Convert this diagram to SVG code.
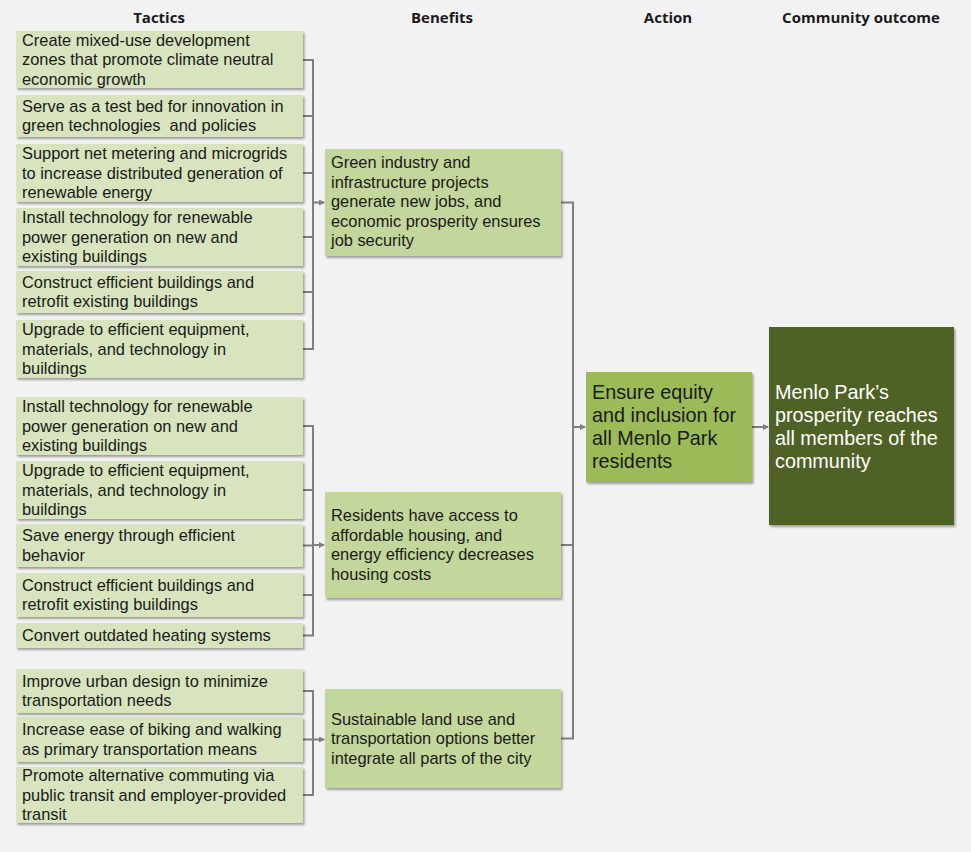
<svg xmlns="http://www.w3.org/2000/svg" width="971" height="852" viewBox="0 0 971 852">
<style>
text{font-family:"Liberation Sans",Arial,sans-serif;fill:#1a1a1a}
.h{font-family:"Open Sans","Liberation Sans",sans-serif;font-size:15px;font-weight:bold;text-anchor:middle}
.t{font-size:16.4px}
.a{font-size:19.8px}
.w{fill:#ffffff}
.tac{fill:#d7e4bd;filter:url(#sh)}
.ben{fill:#c3d69b;filter:url(#sh)}
.act{fill:#9bbb59;filter:url(#sh)}
.out{fill:#4f6228;filter:url(#sh)}
.c{fill:none;stroke:#7f7f7f;stroke-width:2}
.ar{marker-end:url(#arr)}
</style>
<defs>
<filter id="sh" x="-5%" y="-5%" width="115%" height="120%">
<feDropShadow dx="1.5" dy="2" stdDeviation="1" flood-color="#000" flood-opacity="0.35"/>
</filter>
<marker id="arr" markerWidth="6" markerHeight="6" refX="5" refY="3" orient="auto" markerUnits="userSpaceOnUse">
<path d="M0,0 L6,3 L0,6 Z" fill="#7f7f7f"/>
</marker>
</defs>
<rect width="971" height="852" fill="#f2f2f2"/>
<g id="headers">
<text class="h" x="159" y="23">Tactics</text>
<text class="h" x="442" y="23">Benefits</text>
<text class="h" x="668" y="23">Action</text>
<text class="h" x="861" y="23">Community outcome</text>
</g>
<g id="connectors">
<path class="c" d="M303,60H313M303,116H313M303,173H313M303,237H313M303,292H313M303,349H313M313,59V350"/>
<path class="c ar" d="M313,202.5H324"/>
<path class="c" d="M303,426H313M303,490H313M303,545.5H313M303,595H313M303,635.5H313M313,425V636.5"/>
<path class="c ar" d="M313,545H324"/>
<path class="c" d="M303,691H313M303,795H313M313,690V796"/>
<path class="c ar" d="M303,739.5H324"/>
<path class="c" d="M561,202.5H573M561,545H573M561,738.5H573M573,201.5V739.5"/>
<path class="c ar" d="M573,427H585"/>
<path class="c ar" d="M752,427H768"/>
</g>
<g id="t1"><rect class="tac" x="16" y="31" width="287" height="57"/>
<text class="t" x="22"><tspan x="22" y="45.5">Create mixed-use development</tspan><tspan x="22" y="65">zones that promote climate neutral</tspan><tspan x="22" y="84.5">economic growth</tspan></text></g>
<g id="t2"><rect class="tac" x="16" y="95" width="287" height="42"/>
<text class="t" style="white-space:pre"><tspan x="22" y="111.75">Serve as a test bed for innovation in</tspan><tspan x="22" y="131.25">green technologies  and policies</tspan></text></g>
<g id="t3"><rect class="tac" x="16" y="144" width="287" height="58"/>
<text class="t"><tspan x="22" y="159">Support net metering and microgrids</tspan><tspan x="22" y="178.5">to increase distributed generation of</tspan><tspan x="22" y="198">renewable energy</tspan></text></g>
<g id="t4"><rect class="tac" x="16" y="208" width="287" height="58"/>
<text class="t"><tspan x="22" y="223">Install technology for renewable</tspan><tspan x="22" y="242.5">power generation on new and</tspan><tspan x="22" y="262">existing buildings</tspan></text></g>
<g id="t5"><rect class="tac" x="16" y="271" width="287" height="42"/>
<text class="t"><tspan x="22" y="287.75">Construct efficient buildings and</tspan><tspan x="22" y="307.25">retrofit existing buildings</tspan></text></g>
<g id="t6"><rect class="tac" x="16" y="320" width="287" height="58"/>
<text class="t"><tspan x="22" y="335">Upgrade to efficient equipment,</tspan><tspan x="22" y="354.5">materials, and technology in</tspan><tspan x="22" y="374">buildings</tspan></text></g>
<g id="t7"><rect class="tac" x="16" y="397" width="287" height="58"/>
<text class="t"><tspan x="22" y="412">Install technology for renewable</tspan><tspan x="22" y="431.5">power generation on new and</tspan><tspan x="22" y="451">existing buildings</tspan></text></g>
<g id="t8"><rect class="tac" x="16" y="461" width="287" height="58"/>
<text class="t"><tspan x="22" y="476">Upgrade to efficient equipment,</tspan><tspan x="22" y="495.5">materials, and technology in</tspan><tspan x="22" y="515">buildings</tspan></text></g>
<g id="t9"><rect class="tac" x="16" y="524" width="287" height="43"/>
<text class="t"><tspan x="22" y="541.25">Save energy through efficient</tspan><tspan x="22" y="560.75">behavior</tspan></text></g>
<g id="t10"><rect class="tac" x="16" y="573" width="287" height="44"/>
<text class="t"><tspan x="22" y="590.75">Construct efficient buildings and</tspan><tspan x="22" y="610.25">retrofit existing buildings</tspan></text></g>
<g id="t11"><rect class="tac" x="16" y="623" width="287" height="25"/>
<text class="t" x="22" y="641">Convert outdated heating systems</text></g>
<g id="t12"><rect class="tac" x="16" y="669" width="287" height="44"/>
<text class="t"><tspan x="22" y="686.75">Improve urban design to minimize</tspan><tspan x="22" y="706.25">transportation needs</tspan></text></g>
<g id="t13"><rect class="tac" x="16" y="717" width="287" height="45"/>
<text class="t"><tspan x="22" y="735.25">Increase ease of biking and walking</tspan><tspan x="22" y="754.75">as primary transportation means</tspan></text></g>
<g id="t14"><rect class="tac" x="16" y="767" width="287" height="56"/>
<text class="t"><tspan x="22" y="781">Promote alternative commuting via</tspan><tspan x="22" y="800.5">public transit and employer-provided</tspan><tspan x="22" y="820">transit</tspan></text></g>
<g id="b1"><rect class="ben" x="325" y="149" width="236" height="107"/>
<text class="t"><tspan x="331" y="168">Green industry and</tspan><tspan x="331" y="187.5">infrastructure projects</tspan><tspan x="331" y="207">generate new jobs, and</tspan><tspan x="331" y="226.5">economic prosperity ensures</tspan><tspan x="331" y="246">job security</tspan></text></g>
<g id="b2"><rect class="ben" x="325" y="492" width="236" height="106"/>
<text class="t"><tspan x="331" y="521.25">Residents have access to</tspan><tspan x="331" y="540.75">affordable housing, and</tspan><tspan x="331" y="560.25">energy efficiency decreases</tspan><tspan x="331" y="579.75">housing costs</tspan></text></g>
<g id="b3"><rect class="ben" x="325" y="689" width="236" height="99"/>
<text class="t"><tspan x="331" y="724.5">Sustainable land use and</tspan><tspan x="331" y="744">transportation options better</tspan><tspan x="331" y="763.5">integrate all parts of the city</tspan></text></g>
<g id="action"><rect class="act" x="586" y="372" width="166" height="110"/>
<text class="a"><tspan x="592" y="399">Ensure equity</tspan><tspan x="592" y="422">and inclusion for</tspan><tspan x="592" y="445">all Menlo Park</tspan><tspan x="592" y="468">residents</tspan></text></g>
<g id="outcome"><rect class="out" x="769" y="327" width="185" height="198"/>
<text class="a w"><tspan x="775" y="399">Menlo Park’s</tspan><tspan x="775" y="422">prosperity reaches</tspan><tspan x="775" y="445">all members of the</tspan><tspan x="775" y="468">community</tspan></text></g>
</svg>
